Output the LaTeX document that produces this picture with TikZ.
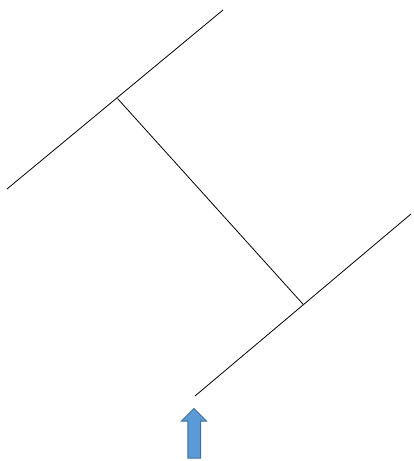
\documentclass[tikz,border=0pt]{standalone}
\usetikzlibrary{shapes.arrows}
\definecolor{arrowfill}{HTML}{5B9BD5}
\definecolor{arrowedge}{HTML}{41719C}
\begin{document}
\begin{tikzpicture}[x=1pt,y=-1pt,
  wire/.style={draw=black,line width=0.8pt},
  uparrow/.style={fill=arrowfill,draw=arrowedge,line width=1pt}]
\useasboundingbox (0,0) rectangle (413,461);
% upper and lower parallel lines
\coordinate (a1) at (7,189);
\coordinate (a2) at (223,10);
\coordinate (b1) at (195,396);
\coordinate (b2) at (411,214);
% junctions of the cross link
\coordinate (ja) at (117.5,98.5);
\coordinate (jb) at (303.3,304.5);
\draw[wire] (a1) -- (a2);
\draw[wire] (b1) -- (b2);
\draw[wire] (ja) -- (jb);
% block arrow pointing up
\draw[uparrow] (194,408.5) -- (206.5,421) -- (200.5,421) -- (200.5,458)
  -- (187.8,458) -- (187.8,421) -- (181.5,421) -- cycle;
\end{tikzpicture}
\end{document}
